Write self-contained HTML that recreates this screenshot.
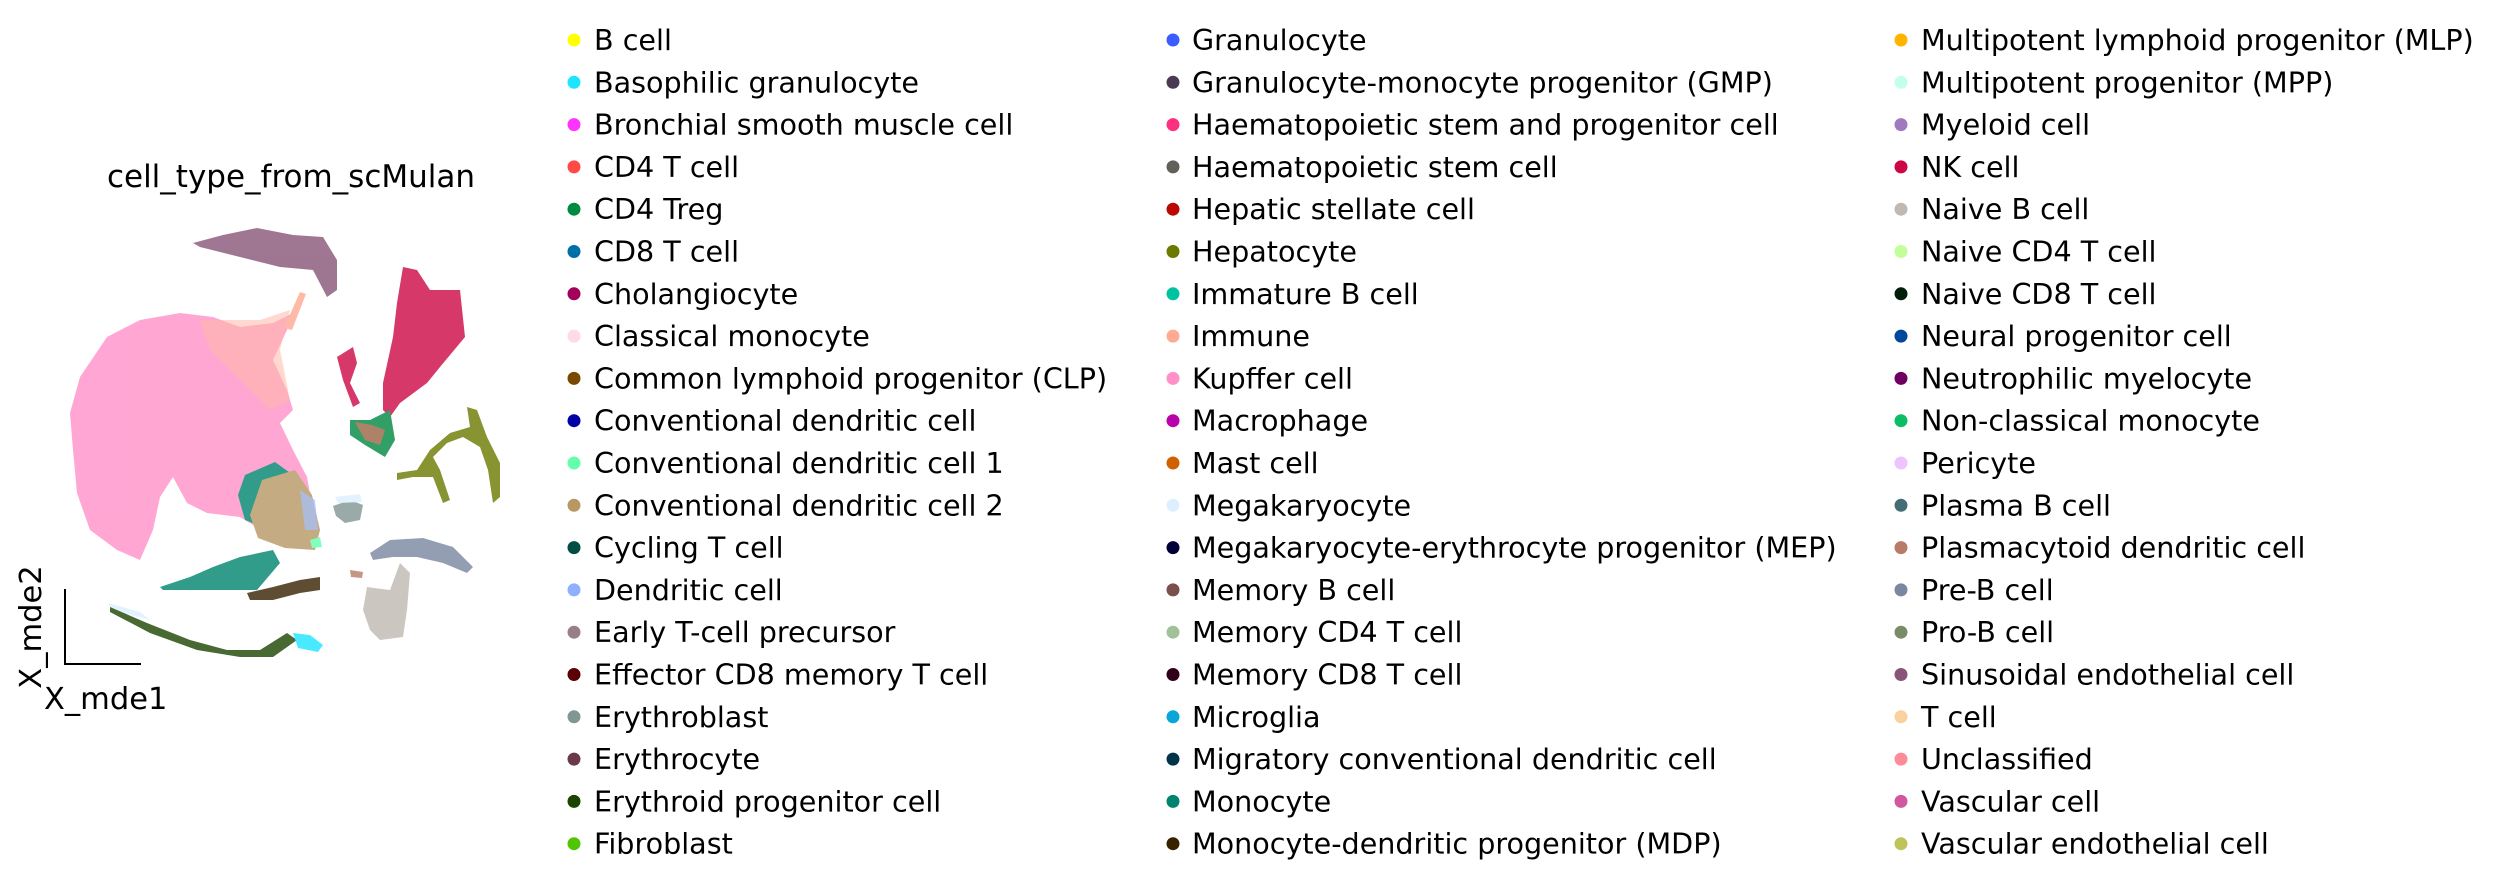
<!DOCTYPE html>
<html><head><meta charset="utf-8"><style>
html,body{margin:0;padding:0;background:#fff;}
svg{display:block;}
text{font-family:"DejaVu Sans","Liberation Sans",sans-serif;font-size:28.6px;fill:#000;}
</style></head><body>
<svg width="2500" height="886" viewBox="0 0 2500 886" xmlns="http://www.w3.org/2000/svg">
<text x="291" y="187" text-anchor="middle" style="font-size:31px">cell_type_from_scMulan</text>
<g opacity="0.8">
<polygon fill="#ff90c9" points="70,413 80,377 107,337 140,320 180,313 213,317 240,327 273,323 293,313 287,330 273,360 287,390 293,410 280,423 293,450 307,477 313,510 307,530 273,537 240,517 207,513 187,503 173,477 160,497 153,530 140,560 117,550 90,530 77,493 73,450"/>
<polygon fill="#ffaa92" opacity="0.55" points="200,320 260,320 290,310 280,350 290,400 270,410 240,380 210,350"/>
<polygon fill="#885578" points="193,243 223,235 257,228 293,235 323,237 337,260 337,290 327,297 313,270 280,267 240,257 200,247"/>
<polygon fill="#ffaa92" points="300,292 306,294 292,330 284,328"/>
<polygon fill="#cc0744" points="403,267 417,270 430,290 460,290 465,337 440,367 427,383 400,403 390,417 383,410 383,383 393,337 397,303"/>
<polygon fill="#cc0744" points="337,357 353,347 357,363 350,383 360,403 353,407 343,380"/>
<polygon fill="#008941" points="350,420 370,420 390,410 395,440 385,457 365,445 350,435"/>
<polygon fill="#ff4a46" opacity="0.6" points="355,422 372,425 385,430 380,445 365,440"/>
<polygon fill="#6b7900" points="467,407 477,410 487,437 500,463 500,497 493,503 488,470 480,447 463,437 447,443 433,457 440,470 450,500 443,503 433,477 413,477 397,480 397,473 417,470 430,450 450,433 470,427"/>
<polygon fill="#00846f" points="245,475 275,462 300,480 310,500 300,520 270,530 245,520 238,495"/>
<polygon fill="#b79762" points="262,480 295,470 312,495 320,530 315,550 285,548 258,538 250,515"/>
<polygon fill="#8fb0ff" opacity="0.7" points="300,490 315,500 318,530 305,530"/>
<polygon fill="#00846f" points="160,587 190,577 213,567 240,557 273,550 280,563 257,590 227,590 193,590 163,590"/>
<polygon fill="#372101" points="247,593 273,587 300,580 320,577 320,590 300,593 273,600 250,600"/>
<polygon fill="#ddefff" points="108,603 140,612 150,620 112,610"/>
<polygon fill="#1b4400" points="110,607 147,623 190,640 227,650 260,650 287,633 297,640 273,657 240,657 197,650 150,633 110,612"/>
<polygon fill="#1ce6ff" points="293,633 310,635 323,645 318,652 298,648"/>
<polygon fill="#7a87a1" points="370,553 390,540 423,538 453,547 473,567 467,573 443,563 417,557 393,557 373,560"/>
<polygon fill="#c0b9b2" points="367,587 390,590 400,563 410,573 407,610 403,637 380,640 370,630 363,610"/>
<polygon fill="#809693" points="333,506 350,500 363,505 360,520 345,523 336,516"/>
<polygon fill="#ddefff" points="335,497 360,494 362,502 338,503"/>
<polygon fill="#b77b68" points="350,570 363,572 362,578 351,577"/>
<polygon fill="#63ffac" points="310,540 320,537 322,547 312,548"/>
</g>
<polyline points="65,589 65,664 141,664" stroke="#000" stroke-width="2" fill="none"/>
<text x="44" y="709" style="font-size:30.5px">X_mde1</text>
<text transform="translate(41,627) rotate(-90)" text-anchor="middle" style="font-size:30.5px">X_mde2</text>
<g>
<circle cx="574" cy="40" r="6.5" fill="#ffff00"/><text x="594" y="50">B cell</text>
<circle cx="574" cy="82.3" r="6.5" fill="#1ce6ff"/><text x="594" y="92.3">Basophilic granulocyte</text>
<circle cx="574" cy="124.6" r="6.5" fill="#ff34ff"/><text x="594" y="134.6">Bronchial smooth muscle cell</text>
<circle cx="574" cy="166.9" r="6.5" fill="#ff4a46"/><text x="594" y="176.9">CD4 T cell</text>
<circle cx="574" cy="209.2" r="6.5" fill="#008941"/><text x="594" y="219.2">CD4 Treg</text>
<circle cx="574" cy="251.5" r="6.5" fill="#006fa6"/><text x="594" y="261.5">CD8 T cell</text>
<circle cx="574" cy="293.8" r="6.5" fill="#a30059"/><text x="594" y="303.8">Cholangiocyte</text>
<circle cx="574" cy="336.1" r="6.5" fill="#ffdbe5"/><text x="594" y="346.1">Classical monocyte</text>
<circle cx="574" cy="378.4" r="6.5" fill="#7a4900"/><text x="594" y="388.4">Common lymphoid progenitor (CLP)</text>
<circle cx="574" cy="420.7" r="6.5" fill="#0000a6"/><text x="594" y="430.7">Conventional dendritic cell</text>
<circle cx="574" cy="463" r="6.5" fill="#63ffac"/><text x="594" y="473">Conventional dendritic cell 1</text>
<circle cx="574" cy="505.3" r="6.5" fill="#b79762"/><text x="594" y="515.3">Conventional dendritic cell 2</text>
<circle cx="574" cy="547.6" r="6.5" fill="#004d43"/><text x="594" y="557.6">Cycling T cell</text>
<circle cx="574" cy="589.9" r="6.5" fill="#8fb0ff"/><text x="594" y="599.9">Dendritic cell</text>
<circle cx="574" cy="632.2" r="6.5" fill="#997d87"/><text x="594" y="642.2">Early T-cell precursor</text>
<circle cx="574" cy="674.5" r="6.5" fill="#5a0007"/><text x="594" y="684.5">Effector CD8 memory T cell</text>
<circle cx="574" cy="716.8" r="6.5" fill="#809693"/><text x="594" y="726.8">Erythroblast</text>
<circle cx="574" cy="759.1" r="6.5" fill="#6a3a4c"/><text x="594" y="769.1">Erythrocyte</text>
<circle cx="574" cy="801.4" r="6.5" fill="#1b4400"/><text x="594" y="811.4">Erythroid progenitor cell</text>
<circle cx="574" cy="843.7" r="6.5" fill="#4fc601"/><text x="594" y="853.7">Fibroblast</text>
</g>
<g>
<circle cx="1173" cy="40" r="6.5" fill="#3b5dff"/><text x="1192" y="50">Granulocyte</text>
<circle cx="1173" cy="82.3" r="6.5" fill="#4a3b53"/><text x="1192" y="92.3">Granulocyte-monocyte progenitor (GMP)</text>
<circle cx="1173" cy="124.6" r="6.5" fill="#ff2f80"/><text x="1192" y="134.6">Haematopoietic stem and progenitor cell</text>
<circle cx="1173" cy="166.9" r="6.5" fill="#61615a"/><text x="1192" y="176.9">Haematopoietic stem cell</text>
<circle cx="1173" cy="209.2" r="6.5" fill="#ba0900"/><text x="1192" y="219.2">Hepatic stellate cell</text>
<circle cx="1173" cy="251.5" r="6.5" fill="#6b7900"/><text x="1192" y="261.5">Hepatocyte</text>
<circle cx="1173" cy="293.8" r="6.5" fill="#00c2a0"/><text x="1192" y="303.8">Immature B cell</text>
<circle cx="1173" cy="336.1" r="6.5" fill="#ffaa92"/><text x="1192" y="346.1">Immune</text>
<circle cx="1173" cy="378.4" r="6.5" fill="#ff90c9"/><text x="1192" y="388.4">Kupffer cell</text>
<circle cx="1173" cy="420.7" r="6.5" fill="#b903aa"/><text x="1192" y="430.7">Macrophage</text>
<circle cx="1173" cy="463" r="6.5" fill="#d16100"/><text x="1192" y="473">Mast cell</text>
<circle cx="1173" cy="505.3" r="6.5" fill="#ddefff"/><text x="1192" y="515.3">Megakaryocyte</text>
<circle cx="1173" cy="547.6" r="6.5" fill="#000035"/><text x="1192" y="557.6">Megakaryocyte-erythrocyte progenitor (MEP)</text>
<circle cx="1173" cy="589.9" r="6.5" fill="#7b4f4b"/><text x="1192" y="599.9">Memory B cell</text>
<circle cx="1173" cy="632.2" r="6.5" fill="#a1c299"/><text x="1192" y="642.2">Memory CD4 T cell</text>
<circle cx="1173" cy="674.5" r="6.5" fill="#300018"/><text x="1192" y="684.5">Memory CD8 T cell</text>
<circle cx="1173" cy="716.8" r="6.5" fill="#0aa6d8"/><text x="1192" y="726.8">Microglia</text>
<circle cx="1173" cy="759.1" r="6.5" fill="#013349"/><text x="1192" y="769.1">Migratory conventional dendritic cell</text>
<circle cx="1173" cy="801.4" r="6.5" fill="#00846f"/><text x="1192" y="811.4">Monocyte</text>
<circle cx="1173" cy="843.7" r="6.5" fill="#372101"/><text x="1192" y="853.7">Monocyte-dendritic progenitor (MDP)</text>
</g>
<g>
<circle cx="1901" cy="40" r="6.5" fill="#ffb500"/><text x="1921" y="50">Multipotent lymphoid progenitor (MLP)</text>
<circle cx="1901" cy="82.3" r="6.5" fill="#c2ffed"/><text x="1921" y="92.3">Multipotent progenitor (MPP)</text>
<circle cx="1901" cy="124.6" r="6.5" fill="#a079bf"/><text x="1921" y="134.6">Myeloid cell</text>
<circle cx="1901" cy="166.9" r="6.5" fill="#cc0744"/><text x="1921" y="176.9">NK cell</text>
<circle cx="1901" cy="209.2" r="6.5" fill="#c0b9b2"/><text x="1921" y="219.2">Naive B cell</text>
<circle cx="1901" cy="251.5" r="6.5" fill="#c2ff99"/><text x="1921" y="261.5">Naive CD4 T cell</text>
<circle cx="1901" cy="293.8" r="6.5" fill="#001e09"/><text x="1921" y="303.8">Naive CD8 T cell</text>
<circle cx="1901" cy="336.1" r="6.5" fill="#00489c"/><text x="1921" y="346.1">Neural progenitor cell</text>
<circle cx="1901" cy="378.4" r="6.5" fill="#6f0062"/><text x="1921" y="388.4">Neutrophilic myelocyte</text>
<circle cx="1901" cy="420.7" r="6.5" fill="#0cbd66"/><text x="1921" y="430.7">Non-classical monocyte</text>
<circle cx="1901" cy="463" r="6.5" fill="#eec3ff"/><text x="1921" y="473">Pericyte</text>
<circle cx="1901" cy="505.3" r="6.5" fill="#456d75"/><text x="1921" y="515.3">Plasma B cell</text>
<circle cx="1901" cy="547.6" r="6.5" fill="#b77b68"/><text x="1921" y="557.6">Plasmacytoid dendritic cell</text>
<circle cx="1901" cy="589.9" r="6.5" fill="#7a87a1"/><text x="1921" y="599.9">Pre-B cell</text>
<circle cx="1901" cy="632.2" r="6.5" fill="#788d66"/><text x="1921" y="642.2">Pro-B cell</text>
<circle cx="1901" cy="674.5" r="6.5" fill="#885578"/><text x="1921" y="684.5">Sinusoidal endothelial cell</text>
<circle cx="1901" cy="716.8" r="6.5" fill="#fad09f"/><text x="1921" y="726.8">T cell</text>
<circle cx="1901" cy="759.1" r="6.5" fill="#ff8a9a"/><text x="1921" y="769.1">Unclassified</text>
<circle cx="1901" cy="801.4" r="6.5" fill="#d157a0"/><text x="1921" y="811.4">Vascular cell</text>
<circle cx="1901" cy="843.7" r="6.5" fill="#bec459"/><text x="1921" y="853.7">Vascular endothelial cell</text>
</g>
</svg>
</body></html>
